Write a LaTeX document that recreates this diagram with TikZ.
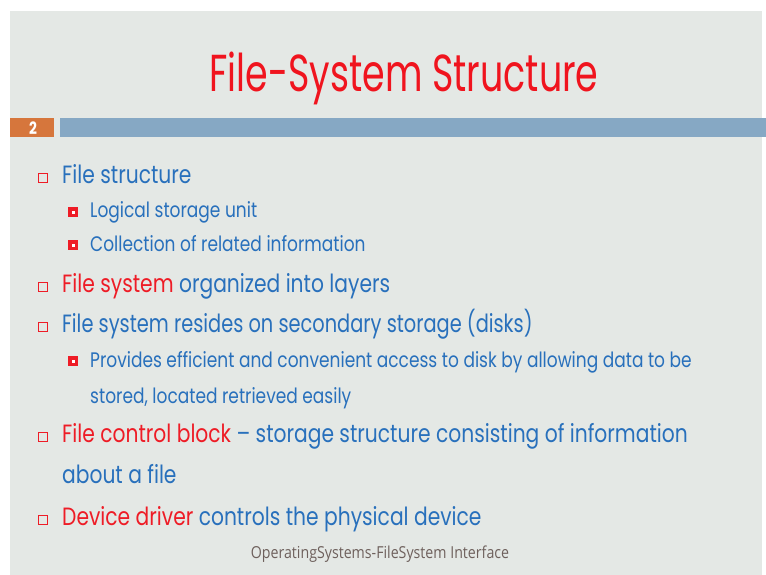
\documentclass[tikz,border=0pt]{standalone}
\usepackage{fontspec}
\setmainfont{Poppins}[FakeStretch=0.81]
\newfontfamily\titlefont{Poppins}[FakeStretch=0.70]
\newfontfamily\footfont{Open Sans}[FakeStretch=0.86]
\definecolor{slidebg}{RGB}{228,232,229}
\definecolor{titlered}{RGB}{240,20,30}
\definecolor{textred}{RGB}{238,28,38}
\definecolor{textblue}{RGB}{40,112,188}
\definecolor{barblue}{RGB}{134,168,196}
\definecolor{numorange}{RGB}{214,118,60}
\definecolor{footgray}{RGB}{110,96,92}
\tikzset{
  line/.style={anchor=base west, inner sep=0pt, text=textblue},
  mainline/.style={line, font=\fontsize{25}{30}\selectfont},
  subline/.style={line, font=\fontsize{21}{25}\selectfont},
  hollowbox/.style={draw=textred, line width=0.9pt, fill=none},
}
\newcommand{\red}[1]{\textcolor{textred}{#1}}
\begin{document}
\begin{tikzpicture}[x=1pt,y=-1pt]
  % page and slide background
  \fill[white] (0,0) rectangle (766,575);
  \useasboundingbox (0,0) rectangle (766,575);
  \fill[slidebg] (10,11) rectangle (762,575);

  % title
  \node[anchor=base, inner sep=0pt, text=titlered,
        font=\titlefont\fontsize{52}{60}\selectfont] (title) at (404,92) {File-System Structure};

  % slide number tab and header bar
  \fill[numorange] (10,118) rectangle (54,137);
  \node[inner sep=0pt, text=white, font=\bfseries\fontsize{17}{19}\selectfont] (num) at (33,128) {2};
  \fill[barblue] (60,118) rectangle (766,137);

  % first-level bullets
  \foreach \y in {183,292,332,442,525}
    \draw[hollowbox] (38,\y-10) rectangle (47,\y-1);
  % second-level bullets
  \foreach \y in {218,251,367}{
    \fill[textred] (68,\y-11) rectangle (78,\y-1);
    \fill[white] (71.5,\y-7.5) rectangle (74.5,\y-4.5);
  }

  \node[mainline] (l1) at (62,183) {File structure};
  \node[subline] (l1a) at (90,218) {Logical storage unit};
  \node[subline] (l1b) at (90,251) {Collection of related information};
  \node[mainline] (l2) at (62,292) {\red{File system} organized into layers};
  \node[mainline] (l3) at (62,332) {\scalebox{0.957}[1]{File system resides on secondary storage (disks)}};
  \node[subline] (l3a) at (90,367) {Provides efficient and convenient access to disk by allowing data to be};
  \node[subline] (l3b) at (90,403) {stored, located retrieved easily};
  \node[mainline] (l4) at (62,442) {\red{File control block} -- storage structure consisting of information};
  \node[mainline] (l4b) at (62,483) {about a file};
  \node[mainline] (l5) at (62,525) {\red{Device driver} controls the physical device};

  % footer
  \node[anchor=base, inner sep=0pt, text=footgray,
        font=\footfont\fontsize{16.5}{18}\selectfont] (foot) at (380,558) {OperatingSystems-FileSystem Interface};
\end{tikzpicture}
\end{document}
